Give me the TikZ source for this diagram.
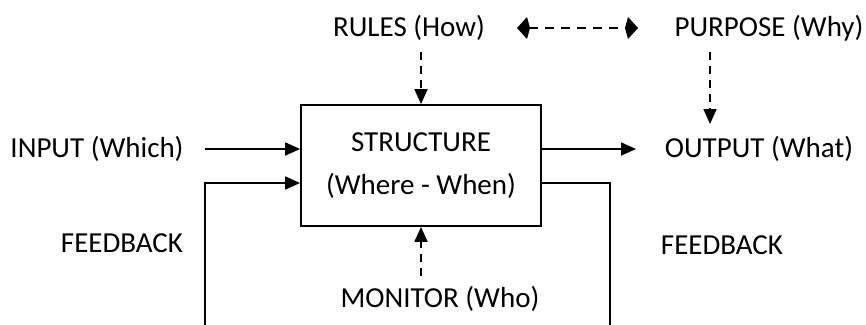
\documentclass[tikz,border=0pt]{standalone}
\usepackage{fontspec}
\setmainfont{Carlito}
\usetikzlibrary{arrows.meta}
\begin{document}
\begin{tikzpicture}[x=1pt,y=-1pt,
  lbl/.style={inner sep=0pt,font=\fontsize{29}{43}\selectfont},
  conn/.style={line width=1.8pt,-{Triangle[length=15pt,width=13pt]}},
  dconn/.style={conn,dash pattern=on 8pt off 6pt},
  plain/.style={line width=1.8pt},
  kt/.tip={Kite[length=13pt,width=22pt,inset=3pt]}]
\useasboundingbox (0,0) rectangle (866,324);
\clip (0,0) rectangle (866,324);
\node[draw,line width=1.8pt,minimum width=240pt,minimum height=121pt,inner sep=0pt,align=center,
  font=\fontsize{29}{43}\selectfont] (box) at (421,165.5) {STRUCTURE\\(Where - When)};
\node[lbl] (rules) at (409,28) {RULES (How)};
\node[lbl] (purpose) at (769,28) {PURPOSE (Why)};
\node[lbl] (input) at (97,149) {INPUT (Which)};
\node[lbl] (output) at (759,149) {OUTPUT (What)};
\node[lbl] (fbl) at (122,243) {FEEDBACK};
\node[lbl] (fbr) at (722,245) {FEEDBACK};
\node[lbl] (monitor) at (440,299) {MONITOR (Who)};
\coordinate (rulesfoot) at (421,52);
\coordinate (dl) at (517,28);
\coordinate (dr) at (638,28);
\coordinate (purfoot) at (710,52);
\coordinate (purtip) at (710,124);
\coordinate (inend) at (205,149);
\coordinate (outend) at (636,149);
\coordinate (fbls) at (205,330);
\coordinate (fblc) at (205,183);
\coordinate (fbrc) at (610,183);
\coordinate (fbrs) at (610,330);
\coordinate (monfoot) at (421,276);
\draw[dconn] (rulesfoot) -- (box.north);
\draw[line width=1.8pt,dash pattern=on 9pt off 7pt,kt-kt] (dl) -- (dr);
\draw[dconn] (purfoot) -- (purtip);
\draw[conn] (inend) -- (inend -| box.west);
\draw[conn] (outend -| box.east) -- (outend);
\draw[conn] (fbls) -- (fblc) -- (fblc -| box.west);
\draw[plain] (fbrc -| box.east) -- (fbrc) -- (fbrs);
\draw[dconn] (monfoot) -- (box.south);
\end{tikzpicture}
\end{document}
